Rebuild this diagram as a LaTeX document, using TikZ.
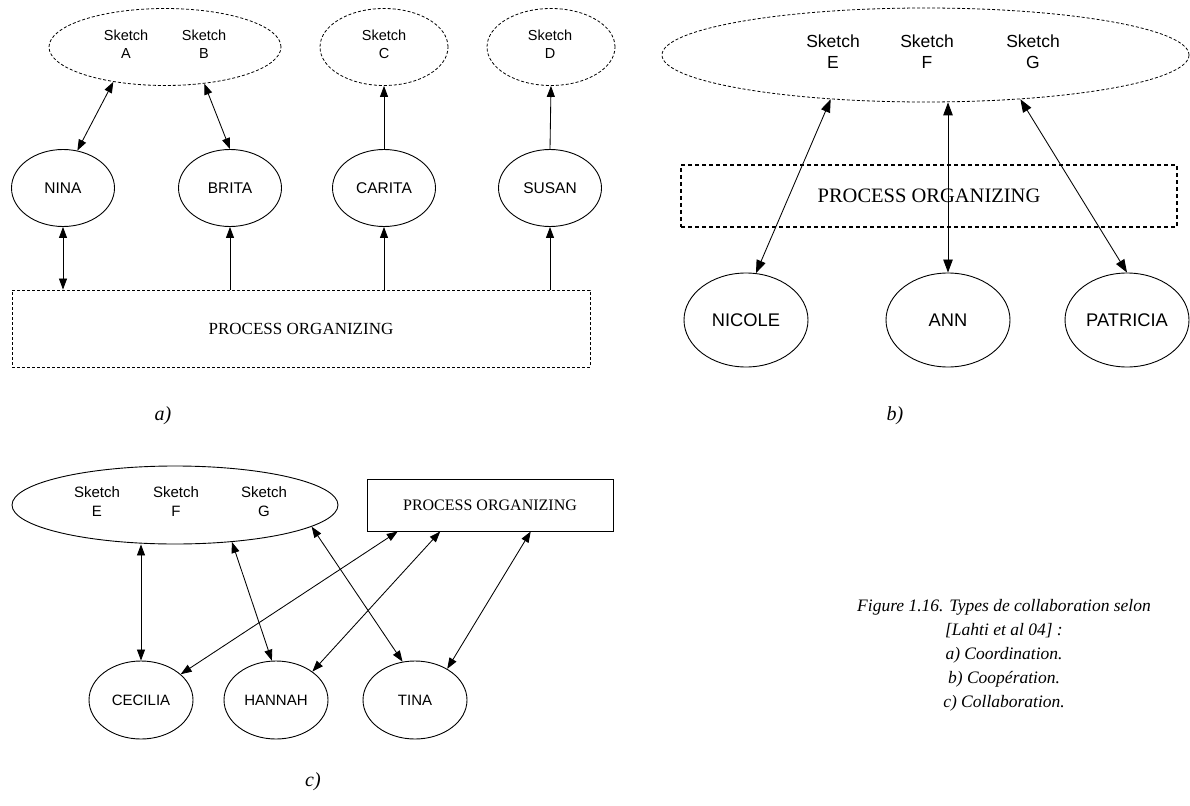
\documentclass[tikz,border=0pt]{standalone}
\usepackage{fontspec}
\setmainfont{Liberation Serif}
\newfontfamily\arialfont{Liberation Sans}
\usepackage{tikz}
\usetikzlibrary{shapes}
\usetikzlibrary{arrows.meta,positioning}
\tikzset{sketch node/.style={ellipse, draw, inner sep=0pt, line width=0.8pt, dash pattern=on 3pt off 2pt}}
\tikzset{solid sketch node/.style={ellipse, draw, inner sep=0pt, line width=0.9pt}}
\tikzset{person node/.style={ellipse, draw, inner sep=0pt, line width=0.9pt, font=\arialfont\fontsize{#1}{#1}\selectfont}}
\tikzset{sketch text/.style 2 args={align=center, inner sep=0pt, font=\arialfont\fontsize{#1}{#2}\selectfont}}
\tikzset{process node/.style={rectangle, draw, inner sep=0pt, line width=0.9pt, font=\fontsize{#1}{#1}\selectfont}}
\tikzset{regular edge/.style={draw, line width=0.85pt, -{Triangle[length=11pt,width=8pt]}}}
\tikzset{double edge/.style={regular edge, {Triangle[length=11pt,width=8pt]}-{Triangle[length=11pt,width=8pt]}}}
\tikzset{big edge/.style={regular edge, {Triangle[length=13pt,width=9.5pt]}-{Triangle[length=13pt,width=9.5pt]}}}
\tikzset{panel label/.style={inner sep=0pt, font=\fontsize{20}{24}\selectfont\itshape}}

\begin{document}
\begin{tikzpicture}
      [x=1pt, y=-1pt]
      \useasboundingbox (0,0) rectangle (1190,805);
      % a) Coordination
      \node [sketch node, minimum width=232pt, minimum height=77pt] (aSkAB) at (165,47) {};
      \node [sketch node, minimum width=128pt, minimum height=77pt] (aSkC)  at (384,47) {};
      \node [sketch node, minimum width=128pt, minimum height=77pt] (aSkD)  at (551,47) {};
      \node [sketch text={14.5}{18}] (aTxA) at (126,44) {Sketch\\A};
      \node [sketch text={14.5}{18}] (aTxB) at (204,44) {Sketch\\B};
      \node [sketch text={14.5}{18}] (aTxC) at (384,44) {Sketch\\C};
      \node [sketch text={14.5}{18}] (aTxD) at (550,44) {Sketch\\D};
      \node [person node=15.5, minimum width=103pt, minimum height=77pt] (aNina)   at ( 63,188) {NINA};
      \node [person node=15.5, minimum width=103pt, minimum height=77pt] (aBrita)  at (230,188) {BRITA};
      \node [person node=15.5, minimum width=103pt, minimum height=77pt] (aCarita) at (384,188) {CARITA};
      \node [person node=15.5, minimum width=103pt, minimum height=77pt] (aSusan)  at (550,188) {SUSAN};
      \node [process node=17, dash pattern=on 3pt off 2pt, minimum width=578pt, minimum height=77pt] (aProc) at (301,328.5) {PROCESS ORGANIZING};
      \node [panel label] (aLabel) at (163,416) {a)};

      \draw [double edge]  (aNina.69)      to (aSkAB.-146);
      \draw [double edge]  (aBrita.north)  to (aSkAB.-43);
      \draw [regular edge] (aCarita.north) to (aSkC.south);
      \draw [regular edge] (aSusan.north)  to (aSkD.south);
      \draw [double edge]  (aNina.south   |- aProc.north) to (aNina.south);
      \draw [regular edge] (aBrita.south  |- aProc.north) to (aBrita.south);
      \draw [regular edge] (aCarita.south |- aProc.north) to (aCarita.south);
      \draw [regular edge] (aSusan.south  |- aProc.north) to (aSusan.south);

      % b) Cooperation
      \node [sketch node, minimum width=527pt, minimum height=94pt] (bSkEFG) at (925.5,55) {};
      \node [sketch text={17.5}{21}] (bTxE) at ( 833,52) {Sketch\\E};
      \node [sketch text={17.5}{21}] (bTxF) at ( 927,52) {Sketch\\F};
      \node [sketch text={17.5}{21}] (bTxG) at (1033,52) {Sketch\\G};
      \node [process node=20.5, line width=1.4pt, dash pattern=on 4pt off 3pt, minimum width=496pt, minimum height=62pt] (bProc) at (929,196) {PROCESS ORGANIZING};
      \node [person node=18.3, minimum width=124pt, minimum height=94pt] (bNicole)   at ( 746,320) {NICOLE};
      \node [person node=18.3, minimum width=124pt, minimum height=94pt] (bAnn)      at ( 948,320) {ANN};
      \node [person node=18.3, minimum width=124pt, minimum height=94pt] (bPatricia) at (1127,320) {PATRICIA};
      \node [panel label] (bLabel) at (895,416) {b)};

      \draw [big edge] (bNicole.78)     to (bSkEFG.-155);
      \draw [big edge] (bAnn.north)     to (bAnn.north |- bSkEFG.south);
      \draw [big edge] (bPatricia.north) to (bSkEFG.-25);

      % c) Collaboration
      \node [solid sketch node, minimum width=326pt, minimum height=78pt] (cSkEFG) at (175,505) {};
      \node [sketch text={15}{19}] (cTxE) at ( 97,502) {Sketch\\E};
      \node [sketch text={15}{19}] (cTxF) at (176,502) {Sketch\\F};
      \node [sketch text={15}{19}] (cTxG) at (264,502) {Sketch\\G};
      \node [process node=16, minimum width=246pt, minimum height=52pt] (cProc) at (490,505) {PROCESS ORGANIZING};
      \node [person node=15, minimum width=104pt, minimum height=78pt] (cCecilia) at (141,700) {CECILIA};
      \node [person node=15, minimum width=104pt, minimum height=78pt] (cHannah)  at (276,700) {HANNAH};
      \node [person node=15, minimum width=104pt, minimum height=78pt] (cTina)    at (415,700) {TINA};
      \node [panel label] (cLabel) at (313,782) {c)};

      \draw [double edge] (cCecilia.north) to (cCecilia.north |- cSkEFG.south);
      \draw [double edge] (cHannah.96)     to (cSkEFG.-33);
      \draw [double edge] (cTina.108)      to (cSkEFG.-9);
      \draw [double edge] (cCecilia.33)    to (cProc.-164);
      \draw [double edge] (cHannah.38)     to (cProc.-152.5);
      \draw [double edge] (cTina.44)       to (cProc.-33);

      \node [align=center, inner sep=0pt, font=\fontsize{17.5}{24}\selectfont\itshape] (caption) at (1004,655)
        {Figure 1.16. Types de collaboration selon\\ {[}Lahti et al 04] :\\ a) Coordination.\\ b) Coopération.\\ c) Collaboration.};
    \end{tikzpicture}
\end{document}
